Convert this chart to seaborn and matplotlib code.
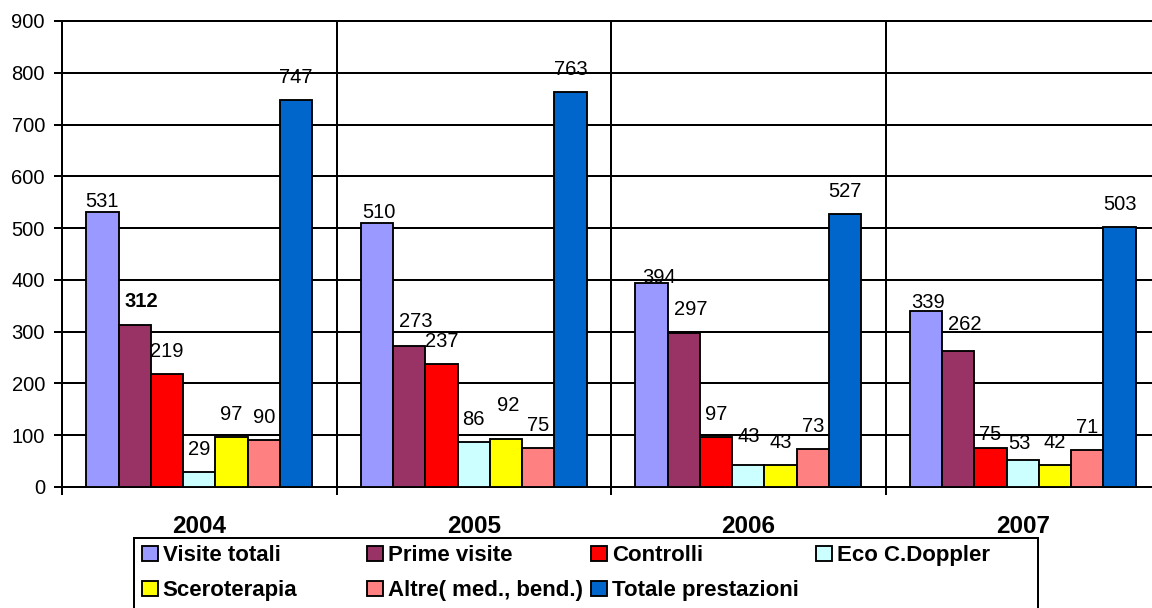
import numpy as np
import pandas as pd
import matplotlib
matplotlib.use("Agg")
import matplotlib.pyplot as plt
import matplotlib.patches as mpatches
from matplotlib.ticker import MultipleLocator
import seaborn as sns

# --- data -------------------------------------------------------------
anni = ["2004", "2005", "2006", "2007"]
serie = ["Visite totali", "Prime visite", "Controlli", "Eco C.Doppler",
         "Sceroterapia", "Altre( med., bend.)", "Totale prestazioni"]
visite_totali = [531, 510, 394, 339]
prime_visite = [312, 273, 297, 262]
controlli = [219, 237, 97, 75]
eco_doppler = [29, 86, 43, 53]
sceroterapia = [97, 92, 43, 42]
altre = [90, 75, 73, 71]
totale_prestazioni = [747, 763, 527, 503]
colori = ["#9999FF", "#993366", "#FF0000", "#CCFFFF",
          "#FFFF00", "#FF8080", "#0066CC"]

valori = [visite_totali, prime_visite, controlli, eco_doppler,
          sceroterapia, altre, totale_prestazioni]
df = pd.DataFrame(
    [(a, s, v[i]) for s, v in zip(serie, valori) for i, a in enumerate(anni)],
    columns=["Anno", "Serie", "Valore"],
)

# --- style ------------------------------------------------------------
sns.set_theme(style="white")
plt.rcParams["font.family"] = ["Liberation Sans", "DejaVu Sans"]
plt.rcParams["text.color"] = "black"
plt.rcParams["legend.labelcolor"] = "black"
PX = 0.72  # points per pixel at 100 dpi
LW = 1.44

fig = plt.figure(figsize=(11.52, 6.08), dpi=100)
ax = fig.add_axes([62 / 1152, 1 - 487 / 608, 1098 / 1152, 466 / 608])

sns.barplot(data=df, x="Anno", y="Valore", hue="Serie", order=anni,
            hue_order=serie, palette=colori, saturation=1, width=0.823,
            gap=0, edgecolor="black", linewidth=1.35, errorbar=None,
            legend=False, ax=ax, zorder=3)

ax.set_xlim(-0.5, 3.5)
ax.set_ylim(0, 900)
ax.set_xlabel("")
ax.set_ylabel("")
ax.yaxis.set_major_locator(MultipleLocator(100))

# year labels centred on groups, separators between groups
ax.set_xticks(range(len(anni)))
ax.set_xticklabels(anni, fontsize=17.5, fontweight="bold", color="black")
ax.set_xticks([-0.5, 0.5, 1.5, 2.5, 3.5], minor=True)
ax.tick_params(axis="x", which="major", length=0, pad=20.5, bottom=True)
ax.tick_params(axis="x", which="minor", length=8 * PX, width=LW,
               color="black", direction="out", bottom=True)
ax.tick_params(axis="y", which="major", length=8 * PX, width=LW,
               color="black", direction="out", left=True, pad=6.5,
               labelsize=14.5, labelcolor="black")

ax.grid(True, axis="y", which="major", color="black", linewidth=LW)
ax.grid(True, axis="x", which="minor", color="black", linewidth=LW)
ax.grid(False, axis="x", which="major")
ax.set_axisbelow(True)
for side in ["left", "bottom", "top", "right"]:
    ax.spines[side].set_color("black")
    ax.spines[side].set_linewidth(LW)

# --- value labels -----------------------------------------------------
nudge = {
    ("2004", "Visite totali"): (0, -12),
    ("2004", "Prime visite"): (7, 1),
    ("2005", "Visite totali"): (2, -12),
    ("2005", "Prime visite"): (7, 2),
    ("2005", "Sceroterapia"): (2, 11),
    ("2006", "Visite totali"): (7.5, -17),
    ("2006", "Prime visite"): (7, 1),
    ("2006", "Eco C.Doppler"): (0, 5.5),
    ("2007", "Visite totali"): (2, -14),
    ("2007", "Prime visite"): (7, 4.5),
    ("2007", "Controlli"): (0, -8.5),
    ("2007", "Eco C.Doppler"): (-3, -6.5),
}
bold_labels = {("2004", "Prime visite")}

for j, cont in enumerate(ax.containers):
    for i, bar in enumerate(cont):
        key = (anni[i], serie[j])
        dx, dy = nudge.get(key, (0, 0))
        x = bar.get_x() + bar.get_width() / 2
        h = bar.get_height()
        ax.annotate(f"{h:.0f}", (x, h), xytext=(dx * PX, (17 + dy) * PX),
                    textcoords="offset points", ha="center", va="baseline",
                    fontsize=14.5, color="black", zorder=5,
                    fontweight="bold" if key in bold_labels else "normal")

# --- legend: four evenly spaced columns inside one frame ---------------
handles = [mpatches.Patch(facecolor=c, edgecolor="black", linewidth=1.35)
           for c in colori]
colonne = [[0, 4], [1, 5], [2, 6], [3]]
col_x = [141.7, 366.7, 591.4, 815.9]
for k, idx in enumerate(colonne):
    fig.legend([handles[i] for i in idx], [serie[i] for i in idx],
               loc="upper left", bbox_to_anchor=(col_x[k] / 1152, 1 - 545 / 608),
               frameon=False, borderpad=0, borderaxespad=0,
               handlelength=0.72, handleheight=0.68, handletextpad=0.22,
               labelspacing=0.64, labelcolor="black",
               prop={"size": 16, "weight": "bold"})

fig.add_artist(mpatches.Rectangle((134 / 1152, 1 - 612 / 608),
                                  (1038 - 134) / 1152, (612 - 538) / 608,
                                  transform=fig.transFigure, fill=False,
                                  edgecolor="black", linewidth=LW,
                                  clip_on=False))

fig.savefig("out.png", dpi=100)
